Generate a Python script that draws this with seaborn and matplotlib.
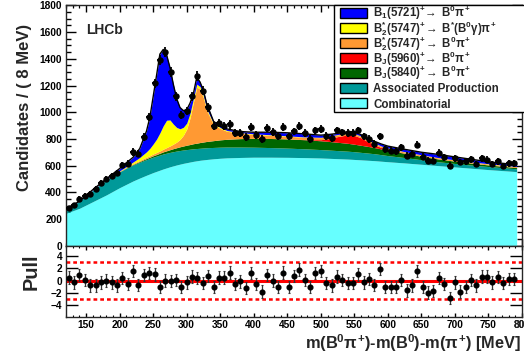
import numpy as np
import matplotlib
matplotlib.use("Agg")
import matplotlib.pyplot as plt
import matplotlib.transforms as mtransforms
from matplotlib.patches import Rectangle
from matplotlib.ticker import MultipleLocator, FixedLocator
import seaborn as sns

# ---------------- data ----------------
bin_low = 120
bin_width = 8
counts = [283, 305, 350, 373, 388, 423, 468, 500, 523, 545,
          603, 615, 702, 690, 815, 965, 1215, 1394, 1453, 1300,
          1118, 981, 1008, 1120, 1272, 1160, 1037, 898, 920, 895,
          908, 845, 843, 813, 889, 831, 798, 881, 852, 818,
          889, 818, 856, 893, 843, 798, 863, 873, 823, 806,
          863, 848, 843, 843, 863, 818, 798, 763, 818, 723,
          713, 706, 736, 673, 688, 756, 668, 638, 638, 698,
          661, 600, 656, 626, 631, 648, 613, 656, 643, 613,
          631, 598, 618, 618]
pulls = [0.5, -0.3, 0.9, 0.1, -0.8, -0.8, -0.3, 0.0, -0.3, -0.8,
         0.4, -0.6, 1.6, -0.7, 0.9, 1.2, 1.0, -1.1, 0.0, -0.1,
         0.1, -1.0, -0.3, 0.65, 0.4, -0.4, 0.75, -1.1, 0.5, 0.5,
         1.3, -0.55, -0.15, -1.25, 1.2, -0.55, -1.8, 0.9, 0.0, -1.0,
         1.3, -1.0, 0.75, 1.8, 0.1, -1.0, 1.2, 1.6, -0.4, -0.8,
         0.65, 0.1, -0.4, -0.4, 1.0, -0.3, 0.3, -0.7, 1.85, -1.0,
         -1.1, -1.0, 0.15, -1.6, -0.8, 1.6, -1.1, -1.95, -1.7, 0.4,
         -0.5, -2.8, -0.3, -1.8, -1.1, 0.1, -0.8, 0.65, 0.65, -0.3,
         0.55, -0.4, 0.3, 0.3]

curve_x = [120, 140, 160, 180, 200, 210, 220, 230, 240, 245,
           250, 255, 260, 265, 270, 275, 280, 285, 290, 295,
           300, 305, 310, 315, 320, 325, 330, 340, 350, 360,
           380, 400, 425, 450, 475, 500, 510, 520, 530, 540,
           550, 560, 570, 580, 590, 600, 625, 650, 675, 700,
           725, 750, 775, 792]
combinatorial = [243, 280, 330, 380, 435, 460, 485, 507, 528, 538,
                 548, 557, 566, 575, 583, 591, 598, 605, 611, 617,
                 622, 627, 632, 636, 640, 643, 646, 651, 655, 658,
                 661, 663, 663, 662, 660, 657, 655, 653, 651, 649,
                 646, 643, 640, 637, 633, 629, 620, 610, 600, 590,
                 580, 570, 561, 555]
associated = [30, 52, 86, 112, 118, 120, 120, 118, 117, 116,
              115, 114, 113, 112, 110, 108, 106, 104, 102, 100,
              98, 96, 94, 92, 90, 89, 88, 85, 83, 81,
              78, 75, 72, 69, 66, 63, 62, 61, 60, 59,
              58, 56, 54, 52, 49, 46, 40, 34, 29, 26,
              24, 23, 22, 21]
bj5840 = [0, 0, 0, 1, 2, 3, 4, 6, 8, 9,
          11, 12, 14, 16, 18, 20, 23, 25, 28, 30,
          33, 35, 38, 40, 43, 45, 47, 51, 55, 58,
          63, 66, 68, 69, 68, 66, 65, 63, 61, 59,
          56, 53, 50, 46, 43, 40, 32, 26, 21, 17,
          14, 12, 10, 9]
bj5960 = [0, 0, 0, 0, 0, 0, 0, 0, 0, 0,
          0, 0, 0, 0, 0, 0, 0, 0, 0, 0,
          0, 0, 0, 0, 0, 0, 0, 0, 0, 0,
          0, 0, 0, 0, 1, 8, 18, 35, 50, 62,
          66, 56, 36, 22, 10, 5, 1, 0, 0, 0,
          0, 0, 0, 0]
b2_b0pi = [0, 0, 1, 2, 3, 4, 6, 8, 10, 11,
           13, 15, 17, 20, 24, 28, 34, 42, 55, 80,
           120, 200, 310, 420, 400, 330, 230, 120, 85, 60,
           40, 30, 24, 20, 17, 15, 14, 13, 13, 12,
           12, 11, 11, 10, 10, 10, 9, 9, 8, 8,
           8, 7, 7, 7]
b2_bstar = [0, 0, 0, 1, 3, 6, 12, 22, 40, 55,
            75, 100, 135, 175, 205, 195, 150, 110, 80, 60,
            45, 35, 28, 22, 18, 15, 12, 9, 7, 6,
            5, 4, 4, 3, 3, 3, 3, 3, 2, 2,
            2, 2, 2, 2, 2, 2, 2, 2, 2, 2,
            2, 2, 2, 2]
b1_5721 = [2, 1, 3, 4, 17, 28, 35, 67, 155, 231,
           355, 477, 590, 572, 490, 393, 299, 216, 159, 125,
           100, 75, 38, 52, 34, 38, 37, 16, 10, 12,
           8, 12, 19, 23, 23, 16, 15, 10, 8, 10,
           13, 11, 7, 13, 15, 14, 18, 19, 24, 22,
           19, 14, 13, 14]

layers = [
    (combinatorial, "#66FFFF", "Combinatorial"),
    (associated, "#009999", "Associated Production"),
    (bj5840, "#006600", r"B$_{J}$(5840)$^{+}\!\rightarrow$ B$^{0}\pi^{+}$"),
    (bj5960, "#FF0000", r"B$_{J}$(5960)$^{+}\!\rightarrow$ B$^{0}\pi^{+}$"),
    (b2_b0pi, "#FF9933", r"B$^{*}_{2}$(5747)$^{+}\!\rightarrow$ B$^{0}\pi^{+}$"),
    (b2_bstar, "#FFFF00", r"B$^{*}_{2}$(5747)$^{+}\!\rightarrow$ B$^{*}$(B$^{0}\gamma$)$\pi^{+}$"),
    (b1_5721, "#0000FF", r"B$_{1}$(5721)$^{+}\!\rightarrow$ B$^{0}\pi^{+}$"),
]

x_ticks = [150, 200, 250, 300, 350, 400, 450, 500, 550, 600, 650, 700, 750, 800]
y_ticks = [0, 200, 400, 600, 800, 1000, 1200, 1400, 1600, 1800]
pull_ticks = [-4, -2, 0, 2, 4]

# ---------------- style ----------------
sns.set_style("ticks")
plt.rcParams["font.family"] = ["Liberation Sans", "DejaVu Sans"]
plt.rcParams["font.weight"] = "bold"
plt.rcParams["mathtext.fontset"] = "custom"
plt.rcParams["mathtext.rm"] = "Liberation Sans:bold"
plt.rcParams["mathtext.it"] = "Liberation Sans:bold"
plt.rcParams["mathtext.bf"] = "Liberation Sans:bold"
plt.rcParams["axes.linewidth"] = 1.0
plt.rcParams["xtick.color"] = "black"
plt.rcParams["ytick.color"] = "black"

W, H = 524, 355
fig = plt.figure(figsize=(W / 100, H / 100), dpi=100)
fx = lambda px: px / W
fy = lambda py: 1 - py / H
ax = fig.add_axes([fx(66), fy(245.7), fx(522) - fx(66), fy(5) - fy(245.7)])
ax2 = fig.add_axes([fx(66), fy(317.3), fx(522) - fx(66), fy(246.3) - fy(317.3)])

x_lo = bin_low
x_hi = bin_low + bin_width * len(counts)
centers = bin_low + bin_width * (np.arange(len(counts)) + 0.5)
counts_a = np.array(counts, dtype=float)

# stacked fit components
cx = np.array(curve_x, dtype=float)
lower = np.zeros(len(cx))
for vals, color, label in layers:
    upper = lower + np.array(vals, dtype=float)
    ax.fill_between(cx, lower, upper, color=color, linewidth=0, zorder=2)
    lower = upper
total = lower
sns.lineplot(x=cx, y=total, ax=ax, color="black", linewidth=1.0, zorder=3, legend=False)

ax.errorbar(centers, counts_a, yerr=np.sqrt(counts_a), xerr=bin_width / 2,
            fmt="o", ms=3.6, color="black", mec="black", elinewidth=1.3,
            capsize=0, zorder=4)

ax.set_xlim(x_lo, x_hi)
ax.set_ylim(0, 1803)
ax.set_xticks(x_ticks)
ax.set_yticks(y_ticks)
ax.xaxis.set_minor_locator(MultipleLocator(10))
ax.yaxis.set_minor_locator(MultipleLocator(50))
ax.tick_params(axis="both", which="both", direction="in", top=True, right=True,
               labelbottom=False)
ax.tick_params(axis="y", which="major", length=7.5, width=1.0, pad=2.8, labelsize=7.3)
ax.tick_params(axis="y", which="minor", length=3.8, width=1.0)
ax.tick_params(axis="x", which="major", length=5, width=1.0)
ax.tick_params(axis="x", which="minor", length=2.5, width=0.9)
for lab in ax.get_yticklabels():
    lab.set_fontweight("bold")
ax.set_xlabel("")
ax.set_ylabel("")

# legend box (ROOT-like, fixed row spacing)
leg_order = [6, 5, 4, 3, 2, 1, 0]
frame = Rectangle((fx(334), fy(112)), fx(530) - fx(334), fy(5) - fy(112),
                  transform=fig.transFigure, facecolor="white", edgecolor="black",
                  linewidth=1.0, zorder=10)
fig.add_artist(frame)
for row, k in enumerate(leg_order):
    vals, color, label = layers[k]
    yc = 13.3 + 15.0 * row
    fig.add_artist(Rectangle((fx(340), fy(yc + 5)), fx(367) - fx(340), fy(yc - 5) - fy(yc + 5),
                             transform=fig.transFigure, facecolor=color,
                             edgecolor="black", linewidth=1.0, zorder=11))
    fig.text(fx(373), fy(yc + 4.2), label, fontsize=8.3, fontweight="bold",
             ha="left", va="baseline", zorder=12)

fig.text(fx(86), fy(30), "LHCb", fontsize=10, fontweight="bold",
         ha="left", va="center")
fig.text(fx(25), fy(107.5), "Candidates / ( 8 MeV)", fontsize=12, fontweight="bold",
         rotation=90, ha="center", va="center")

# ---------------- pull panel ----------------
ax2.axhline(0, color="#FF0000", lw=2.2, zorder=2)
ax2.axhline(3, color="#FF0000", lw=1.8, ls=(0, (1.5, 1.2)), zorder=2)
ax2.axhline(-3, color="#FF0000", lw=1.8, ls=(0, (1.5, 1.2)), zorder=2)
ax2.errorbar(centers, pulls, yerr=1.0, fmt="o", ms=3.4, color="black",
             ecolor="#333333", elinewidth=0.9, capsize=1.0, capthick=0.8, zorder=3)
ax2.set_xlim(x_lo, x_hi)
ax2.set_ylim(-5.98, 5.58)
ax2.set_xticks(x_ticks)
ax2.xaxis.set_minor_locator(MultipleLocator(10))
ax2.yaxis.set_major_locator(FixedLocator(pull_ticks))
ax2.tick_params(axis="both", which="both", direction="in", top=True, right=True)
ax2.tick_params(axis="y", which="major", length=8.5, width=1.0, pad=2.8, labelsize=7.3)
ax2.tick_params(axis="x", which="major", length=3, width=1.0, pad=2.0, labelsize=7.3)
ax2.tick_params(axis="x", which="minor", length=1.5, width=0.8)
for lab in ax2.get_xticklabels() + ax2.get_yticklabels():
    lab.set_fontweight("bold")
ax2.set_xlabel("")
ax2.set_ylabel("")

# last tick label, cut by the image border as in the reference
trans = mtransforms.blended_transform_factory(ax2.transData, ax2.transAxes)
ax2.text(800, -2.8 / 71.0, "800", transform=trans, ha="center", va="top",
         fontsize=7.3, fontweight="bold", clip_on=False)

fig.text(fx(31.5), fy(272), "Pull", fontsize=14.4, fontweight="bold",
         rotation=90, ha="center", va="center")
fig.text(fx(521), fy(343), r"m(B$^{0}\pi^{+}$)-m(B$^{0}$)-m($\pi^{+}$) [MeV]",
         fontsize=11.8, fontweight="bold", ha="right", va="center")

fig.savefig("out.png", dpi=100)
